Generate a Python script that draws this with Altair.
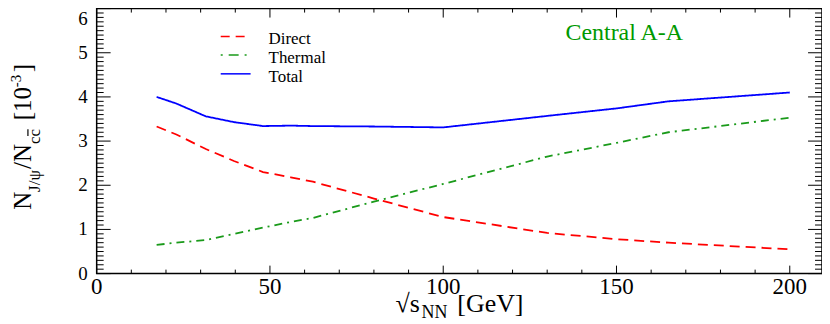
import altair as alt
import pandas as pd

# ---- data ----
energy = [17.3, 23, 31.5, 39.6, 48, 56, 62.4, 80, 100, 130, 150, 165, 200]
direct = [3.33, 3.15, 2.82, 2.55, 2.30, 2.18, 2.08, 1.70, 1.28, 0.92, 0.78, 0.70, 0.55]
thermal = [0.65, 0.70, 0.76, 0.90, 1.04, 1.17, 1.26, 1.63, 2.03, 2.65, 2.96, 3.20, 3.53]
total = [4.00, 3.85, 3.56, 3.43, 3.34, 3.35, 3.34, 3.33, 3.31, 3.57, 3.74, 3.90, 4.10]
series_names = ["Direct", "Thermal", "Total"]
series_colors = ["#ff0000", "#1a9a1a", "#0000ff"]
x_tick_labels = [0, 50, 100, 150, 200]
y_tick_labels = [0, 1, 2, 3, 4, 5, 6]

W, H = 728, 266
FONT = "Liberation Serif"
xs = alt.Scale(domain=[0, 209.3], nice=False, zero=False)
ys = alt.Scale(domain=[0, 6], nice=False, zero=False)

n = len(energy)
long = pd.DataFrame({
    "energy": energy * 3,
    "value": direct + thermal + total,
    "series": ["Direct"] * n + ["Thermal"] * n + ["Total"] * n,
})

lines = alt.Chart(long).mark_line(strokeWidth=1.8).encode(
    x=alt.X("energy:Q", scale=xs, axis=None),
    y=alt.Y("value:Q", scale=ys, axis=None),
    color=alt.Color("series:N", scale=alt.Scale(domain=series_names, range=series_colors), legend=None),
    strokeDash=alt.StrokeDash("series:N", scale=alt.Scale(domain=series_names, range=[[10, 6], [8, 5, 2, 5], [1, 0]]), legend=None),
)

# ---- ticks (ROOT style, inside, all four sides) ----
x_minor = [v for v in range(10, 210, 10) if v % 50]
y_minor = [round(i * 0.1, 1) for i in range(1, 60) if i % 10]

def xticks(vals, length_bottom, length_top):
    d = pd.DataFrame({"v": vals})
    b = alt.Chart(d).mark_rule(color="black", strokeWidth=1).encode(
        x=alt.X("v:Q", scale=xs, axis=None), y=alt.value(H), y2=alt.value(H - length_bottom))
    t = alt.Chart(d).mark_rule(color="black", strokeWidth=1).encode(
        x=alt.X("v:Q", scale=xs, axis=None), y=alt.value(0), y2=alt.value(length_top))
    return [b, t]

def yticks(vals, length):
    d = pd.DataFrame({"v": vals})
    l = alt.Chart(d).mark_rule(color="black", strokeWidth=1).encode(
        y=alt.Y("v:Q", scale=ys, axis=None), x=alt.value(0), x2=alt.value(length))
    r = alt.Chart(d).mark_rule(color="black", strokeWidth=1).encode(
        y=alt.Y("v:Q", scale=ys, axis=None), x=alt.value(W - length), x2=alt.value(W))
    return [l, r]

ticks = xticks(x_tick_labels, 8, 9) + xticks(x_minor, 4, 4) + yticks(y_tick_labels, 14) + yticks(y_minor, 7)

# ---- tick labels ----
xl = alt.Chart(pd.DataFrame({"v": x_tick_labels, "lab": [str(v) for v in x_tick_labels]})).mark_text(
    font=FONT, fontSize=23, align="center", baseline="top", color="black").encode(
    x=alt.X("v:Q", scale=xs, axis=None), y=alt.value(H + 2), text="lab:N")
yl = alt.Chart(pd.DataFrame({"v": y_tick_labels[:-1], "lab": [str(v) for v in y_tick_labels[:-1]]})).mark_text(
    font=FONT, fontSize=19, align="right", baseline="middle", color="black").encode(
    y=alt.Y("v:Q", scale=ys, axis=None), x=alt.value(-9), text="lab:N")
yl_top = alt.Chart(pd.DataFrame({"v": y_tick_labels[-1:], "lab": [str(v) for v in y_tick_labels[-1:]]})).mark_text(
    font=FONT, fontSize=19, align="right", baseline="top", color="black", dy=1).encode(
    y=alt.Y("v:Q", scale=ys, axis=None), x=alt.value(-9), text="lab:N")

def txt(s, x, y, size, angle=0, color="black", align="left", baseline="alphabetic"):
    return alt.Chart(pd.DataFrame({"t": [s]})).mark_text(
        font=FONT, fontSize=size, angle=angle, align=align, baseline=baseline, color=color
    ).encode(text="t:N", x=alt.value(x), y=alt.value(y))

def seg(x1, x2, y1, y2, color="black", dash=None, width=1.2):
    kw = dict(color=color, strokeWidth=width)
    if dash:
        kw["strokeDash"] = dash
    return alt.Chart(pd.DataFrame({"a": [0]})).mark_rule(**kw).encode(
        x=alt.value(x1), x2=alt.value(x2), y=alt.value(y1), y2=alt.value(y2))

# ---- y-axis title: N_{J/psi}/N_{c cbar} [10^-3], rotated ----
ytitle = [
    txt("N", -65.5, 202, 25, angle=270),
    txt("J/\u03c8", -56.5, 184, 17, angle=270),
    txt("/N", -65.5, 161, 25, angle=270),
    txt("cc", -56.5, 136, 17, angle=270),
    seg(-69, -69, 128, 121),
    txt("[10", -65.5, 112, 25, angle=270),
    txt("-3", -75.5, 79, 15, angle=270),
    txt("]", -65.5, 64, 25, angle=270),
]

# ---- x-axis title: sqrt(s_NN) [GeV] ----
xtitle = [
    txt("\u221as", 300, 305, 26),
    txt("NN", 326, 311, 18),
    txt("[GeV]", 362, 305, 26),
]

# ---- legend and label ----
legend = [
    seg(124.5, 154.5, 28, 28, color=series_colors[0], dash=[9, 6], width=1.5),
    seg(124.5, 154.5, 46.5, 46.5, color=series_colors[1], dash=[2, 6, 10, 6], width=1.5),
    seg(124.5, 154.5, 65.5, 65.5, color=series_colors[2], width=1.5),
    txt(series_names[0], 172.5, 35.5, 17),
    txt(series_names[1], 172.5, 54.5, 17),
    txt(series_names[2], 172.5, 73.5, 17),
    txt("Central A-A", 529.5, 32, 24, color="#009900", align="center"),
]

chart = alt.layer(
    *ticks, lines, xl, yl, yl_top, *ytitle, *xtitle, *legend
).properties(
    width=W, height=H,
    padding={"left": 89, "top": 0, "right": 0, "bottom": 50},
    autosize=alt.AutoSizeParams(type="none"),
).configure_view(stroke="black", strokeWidth=1.5)

chart.save("out.html", embed_options={"renderer": "svg", "actions": False})
